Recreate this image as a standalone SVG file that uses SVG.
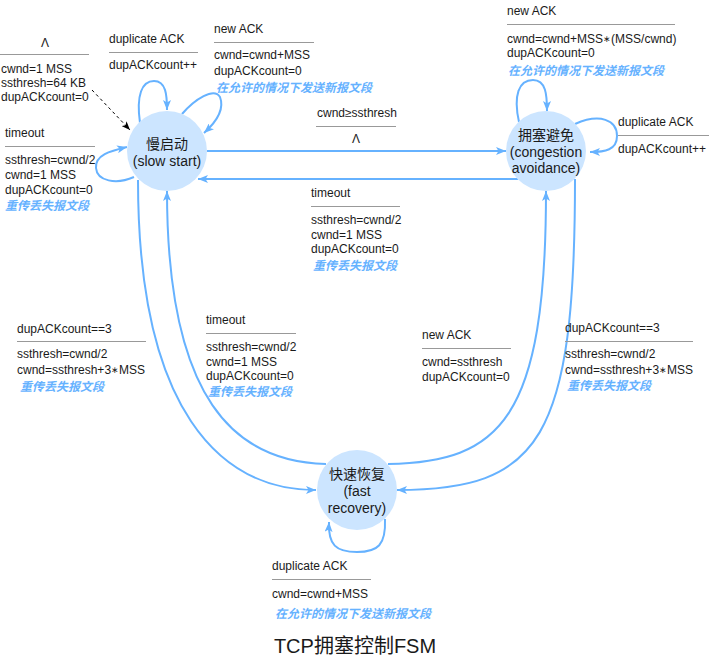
<svg xmlns="http://www.w3.org/2000/svg" width="709" height="660" viewBox="0 0 709 660">
<style>
.node{fill:#cce5ff;stroke:none}
.nt{font-family:"Liberation Sans",Arial,"Noto Sans CJK SC",sans-serif;font-size:14px;fill:#1a1a1a;text-anchor:middle}
.e{fill:none;stroke:#66b2ff;stroke-width:2;marker-end:url(#ab)}
.d{fill:none;stroke:#000;stroke-width:1;stroke-dasharray:3 3;marker-end:url(#ak)}
.t{font-family:"Liberation Sans",Arial,"Noto Sans CJK SC",sans-serif;font-size:12px;fill:#1a1a1a}
.b{font-family:"Liberation Sans",Arial,"Noto Sans CJK SC",sans-serif;font-size:12px;fill:#66b2ff;font-weight:bold;font-style:italic}
.sep{stroke:#999;stroke-width:1}
.ast{font-size:9px}
.title{font-family:"Liberation Sans",Arial,"Noto Sans CJK SC",sans-serif;font-size:20px;fill:#1a1a1a;text-anchor:middle}
</style>
<defs>
<marker id="ab" viewBox="0 0 10 8" refX="10" refY="4" markerWidth="10" markerHeight="8" markerUnits="userSpaceOnUse" orient="auto"><path d="M0,0 L10,4 L0,8 L2.5,4 Z" fill="#66b2ff"/></marker>
<marker id="ak" viewBox="0 0 10 8" refX="10" refY="4" markerWidth="9" markerHeight="7" markerUnits="userSpaceOnUse" orient="auto"><path d="M0,0 L10,4 L0,8 L2.5,4 Z" fill="#000"/></marker>
</defs>

<g id="connectors">
<path class="d" d="M92,90 L130,130"/>
<path class="e" d="M140,123 C136,95 142,81 154,81 C166,81 167,95 167,110"/>
<path class="e" d="M182,114 C195,99 214,87 220,97 C225,110 214,124 204,133"/>
<path class="e" d="M134,177 C116,185 97,181 96,168 C95,155 110,151 127,147"/>
<path class="e" d="M207,151 L506,151"/>
<path class="e" d="M518,179 L198,179"/>
<path class="e" d="M138,180 C138,410 220,490 316,490"/>
<path class="e" d="M326,464 C235,462 167,400 167,191"/>
<path class="e" d="M388,464 C500,462 546,420 546,191"/>
<path class="e" d="M575,179 C575,440 540,490 397,490"/>
<path class="e" d="M519,122 C513,95 519,80 533,80 C546,80 547,95 547,111"/>
<path class="e" d="M575,124 C600,113 617,120 617,136 C617,150 605,152 590,152"/>
<path class="e" d="M385,519 C386,545 378,552 357,552 C336,552 328,545 329,522"/>
</g>

<g id="slow-start">
<circle class="node" cx="167" cy="151" r="40"/>
<text class="nt" x="167" y="148.5">慢启动</text>
<text class="nt" x="167" y="166">(slow start)</text>
</g>
<g id="congestion-avoidance">
<circle class="node" cx="546" cy="151" r="40"/>
<text class="nt" x="546" y="140">拥塞避免</text>
<text class="nt" x="546" y="156.5">(congestion</text>
<text class="nt" x="546" y="173">avoidance)</text>
</g>
<g id="fast-recovery">
<circle class="node" cx="357" cy="490" r="40"/>
<text class="nt" x="357" y="478.5">快速恢复</text>
<text class="nt" x="357" y="496">(fast</text>
<text class="nt" x="357" y="513">recovery)</text>
</g>

<g id="labels">
<g id="label-init">
<text class="t" x="45" y="47" text-anchor="middle">Λ</text>
<line class="sep" x1="0" y1="54.5" x2="89" y2="54.5"/>
<text class="t" x="1" y="73">cwnd=1 MSS</text>
<text class="t" x="1" y="87">ssthresh=64 KB</text>
<text class="t" x="1" y="101">dupACKcount=0</text>
</g>
<g id="label-ss-dup">
<text class="t" x="109" y="43">duplicate ACK</text>
<line class="sep" x1="109" y1="52.5" x2="198" y2="52.5"/>
<text class="t" x="109" y="69">dupACKcount++</text>
</g>
<g id="label-ss-new">
<text class="t" x="214" y="32.5">new ACK</text>
<line class="sep" x1="214" y1="42.5" x2="314" y2="42.5"/>
<text class="t" x="214" y="59">cwnd=cwnd+MSS</text>
<text class="t" x="214" y="75">dupACKcount=0</text>
<text class="b" x="216" y="92">在允许的情况下发送新报文段</text>
</g>
<g id="label-ss-timeout">
<text class="t" x="5" y="137">timeout</text>
<line class="sep" x1="5" y1="146.5" x2="95" y2="146.5"/>
<text class="t" x="5" y="164">ssthresh=cwnd/2</text>
<text class="t" x="5" y="178.5">cwnd=1 MSS</text>
<text class="t" x="5" y="193.5">dupACKcount=0</text>
<text class="b" x="5" y="210">重传丢失报文段</text>
</g>
<g id="label-ss-ca">
<text class="t" x="317" y="117">cwnd≥ssthresh</text>
<line class="sep" x1="316" y1="126.5" x2="396" y2="126.5"/>
<text class="t" x="356" y="143" text-anchor="middle">Λ</text>
</g>
<g id="label-ca-new">
<text class="t" x="507" y="15">new ACK</text>
<line class="sep" x1="507" y1="24.5" x2="675" y2="24.5"/>
<text class="t" x="507" y="42.5">cwnd=cwnd+MSS<tspan class="ast" dy="-1">∗</tspan><tspan dy="1">(MSS/cwnd)</tspan></text>
<text class="t" x="507" y="57">dupACKcount=0</text>
<text class="b" x="508" y="75">在允许的情况下发送新报文段</text>
</g>
<g id="label-ca-dup">
<text class="t" x="618" y="126">duplicate ACK</text>
<line class="sep" x1="618" y1="135.5" x2="709" y2="135.5"/>
<text class="t" x="618" y="152.5">dupACKcount++</text>
</g>
<g id="label-ca-timeout">
<text class="t" x="311" y="196.5">timeout</text>
<line class="sep" x1="311" y1="206.5" x2="400" y2="206.5"/>
<text class="t" x="311" y="224">ssthresh=cwnd/2</text>
<text class="t" x="311" y="239">cwnd=1 MSS</text>
<text class="t" x="311" y="253">dupACKcount=0</text>
<text class="b" x="313" y="270">重传丢失报文段</text>
</g>
<g id="label-ss-fr">
<text class="t" x="17" y="332.5">dupACKcount==3</text>
<line class="sep" x1="17" y1="341.5" x2="146" y2="341.5"/>
<text class="t" x="17" y="357.5">ssthresh=cwnd/2</text>
<text class="t" x="17" y="374">cwnd=ssthresh+3<tspan class="ast" dy="-1">∗</tspan><tspan dy="1">MSS</tspan></text>
<text class="b" x="20" y="390.5">重传丢失报文段</text>
</g>
<g id="label-fr-timeout">
<text class="t" x="206" y="324">timeout</text>
<line class="sep" x1="206" y1="333.5" x2="296" y2="333.5"/>
<text class="t" x="206" y="351">ssthresh=cwnd/2</text>
<text class="t" x="206" y="366">cwnd=1 MSS</text>
<text class="t" x="206" y="380">dupACKcount=0</text>
<text class="b" x="208" y="396">重传丢失报文段</text>
</g>
<g id="label-fr-new">
<text class="t" x="422" y="339">new ACK</text>
<line class="sep" x1="422" y1="348.5" x2="511" y2="348.5"/>
<text class="t" x="422" y="366">cwnd=ssthresh</text>
<text class="t" x="422" y="381">dupACKcount=0</text>
</g>
<g id="label-ca-fr">
<text class="t" x="565" y="331.5">dupACKcount==3</text>
<line class="sep" x1="565" y1="341.5" x2="693" y2="341.5"/>
<text class="t" x="565" y="358">ssthresh=cwnd/2</text>
<text class="t" x="565" y="374">cwnd=ssthresh+3<tspan class="ast" dy="-1">∗</tspan><tspan dy="1">MSS</tspan></text>
<text class="b" x="567" y="390">重传丢失报文段</text>
</g>
<g id="label-fr-dup">
<text class="t" x="272" y="570">duplicate ACK</text>
<line class="sep" x1="272" y1="579.5" x2="371" y2="579.5"/>
<text class="t" x="272" y="597.5">cwnd=cwnd+MSS</text>
<text class="b" x="275" y="618">在允许的情况下发送新报文段</text>
</g>
</g>

<text class="title" x="355" y="653">TCP拥塞控制FSM</text>
</svg>
